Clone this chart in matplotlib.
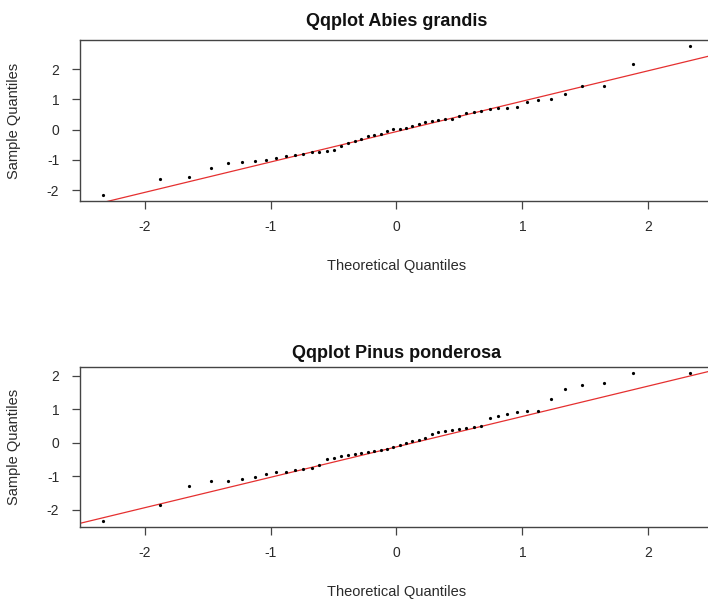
import matplotlib
matplotlib.use("Agg")
import matplotlib.pyplot as plt
import numpy as np
from statistics import NormalDist

plt.rcParams['font.family'] = ['Liberation Sans', 'DejaVu Sans']

# Sorted sample values for each species
abies_grandis = [-2.16, -1.63, -1.57, -1.26, -1.09, -1.06, -1.03, -0.99, -0.94, -0.88,
                 -0.85, -0.81, -0.74, -0.74, -0.70, -0.67, -0.55, -0.44, -0.38, -0.32,
                 -0.22, -0.19, -0.14, -0.05, 0.02, 0.03, 0.07, 0.11, 0.20, 0.27,
                 0.29, 0.31, 0.34, 0.37, 0.46, 0.54, 0.58, 0.63, 0.70, 0.71,
                 0.73, 0.76, 0.93, 0.98, 1.01, 1.18, 1.43, 1.46, 2.18, 2.77]

pinus_ponderosa = [-2.34, -1.86, -1.30, -1.15, -1.14, -1.07, -1.02, -0.94, -0.88, -0.87,
                   -0.81, -0.79, -0.76, -0.66, -0.48, -0.44, -0.40, -0.36, -0.33, -0.31,
                   -0.28, -0.25, -0.22, -0.18, -0.13, -0.08, -0.02, 0.04, 0.08, 0.13,
                   0.27, 0.32, 0.35, 0.38, 0.41, 0.44, 0.47, 0.50, 0.73, 0.81,
                   0.86, 0.91, 0.94, 0.96, 1.31, 1.61, 1.73, 1.80, 2.08, 2.09]

titles = ["Qqplot Abies grandis", "Qqplot Pinus ponderosa"]
tick_values = [-2, -1, 0, 1, 2]
xlabel = "Theoretical Quantiles"
ylabel = "Sample Quantiles"

nd = NormalDist()


def ppoints(n):
    a = 3 / 8 if n <= 10 else 0.5
    return [(i + 1 - a) / (n + 1 - 2 * a) for i in range(n)]


def padded(lo, hi):
    r = hi - lo
    return lo - 0.04 * r, hi + 0.04 * r


W, H = 708, 603
fig = plt.figure(figsize=(W / 100, H / 100), dpi=100)
fig.patch.set_facecolor('white')

# Axes boxes in pixel coordinates (left, top, right, bottom)
boxes = [(80, 40, 713, 201), (80, 367, 713, 527)]
title_offsets = [18, 13]

text_col = '#2a2a2a'
frame_col = '#444444'

for data, title, box, toff in zip([abies_grandis, pinus_ponderosa], titles, boxes, title_offsets):
    l, t, r, b = box
    ax = fig.add_axes([l / W, 1 - b / H, (r - l) / W, (b - t) / H])
    y = np.sort(np.array(data))
    x = np.array([nd.inv_cdf(p) for p in ppoints(len(y))])

    ax.plot(x, y, 'o', color='black', ms=2.3, mew=0, zorder=3)

    # reference line through the first and third quartiles
    q1, q3 = np.quantile(y, [0.25, 0.75])
    z1, z3 = nd.inv_cdf(0.25), nd.inv_cdf(0.75)
    slope = (q3 - q1) / (z3 - z1)
    intercept = q1 - slope * z1
    xl = np.array([-4, 4])
    ax.plot(xl, intercept + slope * xl, color='#e53030', lw=0.9, zorder=2)

    ax.set_xlim(*padded(x.min(), x.max()))
    ax.set_ylim(*padded(y.min(), y.max()))
    ax.set_xticks(tick_values)
    ax.set_yticks(tick_values)
    ax.set_xticklabels([str(v) for v in tick_values])
    ax.set_yticklabels([str(v) for v in tick_values])
    ax.tick_params(axis='both', length=6, width=0.9, color=frame_col,
                   labelsize=10, labelcolor=text_col)
    ax.tick_params(axis='x', pad=8)
    ax.tick_params(axis='y', pad=9)
    for s in ax.spines.values():
        s.set_color(frame_col)
        s.set_linewidth(1.0)

    cx = (l + r) / 2
    fig.text(cx / W, 1 - (t - toff) / H, title, ha='center', va='center',
             fontsize=13, fontweight='bold', color='#111111')
    fig.text(cx / W, 1 - (b + 65) / H, xlabel, ha='center', va='center',
             fontsize=10.5, color=text_col)
    fig.text(14 / W, 1 - ((t + b) / 2) / H, ylabel, ha='center', va='center',
             rotation=90, fontsize=10.5, color=text_col)

fig.savefig('out.png', dpi=100, facecolor='white')
